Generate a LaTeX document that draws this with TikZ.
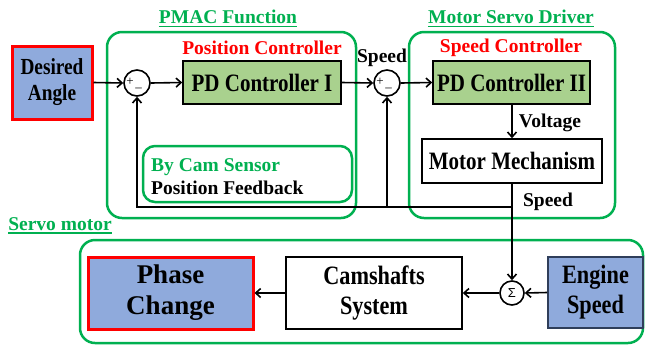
\documentclass[tikz,border=0pt]{standalone}
\usepackage{fontspec}
\setmainfont{Liberation Serif}
\newfontfamily\condf[FakeStretch=0.84]{Liberation Serif}
\newfontfamily\sansf{Liberation Sans}
\usetikzlibrary{arrows.meta}
\definecolor{grn}{RGB}{0,176,80}
\definecolor{fillblue}{RGB}{143,170,220}
\definecolor{fillgreen}{RGB}{169,209,142}
\definecolor{darkedge}{RGB}{47,62,90}
\newcommand\fsz[2]{\fontsize{#1}{#2}\selectfont}
\tikzset{
  grpbox/.style={draw=grn, line width=2.5pt, rounded corners=15pt, inner sep=0pt},
  redbox/.style={draw=red, line width=3pt, fill=fillblue, align=center, inner sep=0pt},
  pdbox/.style={draw=black, line width=1.6pt, fill=fillgreen, inner sep=0pt,
    font=\rmfamily\condf\bfseries\fsz{25}{28}},
  plainbox/.style={draw=black, line width=1.6pt, fill=white, inner sep=0pt, align=center},
  engbox/.style={draw=darkedge, line width=1.8pt, fill=fillblue, inner sep=0pt, align=center,
    font=\condf\bfseries\fsz{26.5}{30}},
  sumc/.style={circle, draw=black, line width=1.6pt, fill=white, inner sep=0pt},
  conn/.style={draw=black, line width=1.6pt},
  lbl/.style={inner sep=0pt, font=\rmfamily\bfseries\fsz{19.5}{23}},
  sgn/.style={inner sep=0pt, font=\rmfamily\fsz{13}{13}},
  uline/.style={draw=grn, line width=1.3pt}
}
\begin{document}
\begin{tikzpicture}[x=1pt, y=-1pt, >={Straight Barb[length=5pt,width=9pt]}]
\useasboundingbox (0,0) rectangle (647,349);

% group frames
\node[grpbox, minimum width=249pt, minimum height=186pt] (pmac) at (231.5,125) {};
\node[grpbox, minimum width=206pt, minimum height=186pt] (msd) at (512,125) {};
\node[grpbox, minimum width=563pt, minimum height=103pt] (servo) at (361.5,291.5) {};
\node[grpbox, rounded corners=12pt, minimum width=209pt, minimum height=56pt] (fbbox) at (247.5,174) {};

% group titles
\node[lbl, text=grn] (tpmac) at (228,17) {PMAC Function};
\draw[uline] ([yshift=-2.5pt]tpmac.base west) -- ([yshift=-2.5pt]tpmac.base east);
\node[lbl, text=grn] (tmsd) at (511,17) {Motor Servo Driver};
\draw[uline] ([yshift=-2.5pt]tmsd.base west) -- ([yshift=-2.5pt]tmsd.base east);
\node[lbl, text=grn] (tservo) at (60,224) {Servo motor};
\draw[uline] ([yshift=-2.5pt]tservo.base west) -- ([yshift=-2.5pt]tservo.base east);

\node[lbl, text=red] (tpos) at (262,48) {Position Controller};
\node[lbl, text=red] (tspd) at (511,48) {Speed Controller};

% feedback caption
\node[lbl, anchor=west, align=left] (fbtext) at (151,177)
  {\textcolor{grn}{By Cam Sensor}\\Position Feedback};

% blocks
\node[redbox, minimum width=80pt, minimum height=73pt, font=\condf\bfseries\fsz{23}{26}]
  (da) at (52,82.5) {Desired\\Angle};
\node[sumc, minimum size=26pt] (s1) at (137,83) {};
\node[pdbox, minimum width=158pt, minimum height=43pt] (pd1) at (262,82.5) {PD Controller I};
\node[sumc, minimum size=26pt] (s2) at (387,83) {};
\node[pdbox, minimum width=157pt, minimum height=43pt] (pd2) at (511.5,82.5) {PD Controller II};
\node[plainbox, minimum width=180pt, minimum height=44pt, font=\condf\bfseries\fsz{25}{28}]
  (mm) at (512,161) {Motor Mechanism};

\node[redbox, minimum width=165pt, minimum height=72pt, font=\rmfamily\bfseries\fsz{27}{31}]
  (ph) at (170.5,293) {Phase\\Change};
\node[plainbox, minimum width=176pt, minimum height=72pt, font=\condf\bfseries\fsz{26.5}{30}]
  (cam) at (374,293) {Camshafts\\System};
\node[sumc, minimum size=24pt, font=\sansf\fsz{13}{13}] (sig) at (512,293) {Σ};
\node[engbox, minimum width=95pt, minimum height=71pt] (eng) at (595.5,292.5) {Engine\\Speed};

% signs in the comparators
\node[sgn] (p1) at (130,81.5) {+};
\node[sgn] (m1) at (138.5,90) {–};
\node[sgn] (p2) at (380,81.5) {+};
\node[sgn] (m2) at (388.5,90) {–};

% signal labels
\node[lbl] (lspd1) at (382,58) {Speed};
\node[lbl] (lvolt) at (550,123) {Voltage};
\node[lbl] (lspd2) at (548,202) {Speed};

% forward path
\draw[conn, ->] (da.east) -- (s1.west);
\draw[conn, ->] (s1.east) -- (pd1.west);
\draw[conn, ->] (pd1.east) -- (s2.west);
\draw[conn, ->] (s2.east) -- (pd2.west);
\draw[conn, ->] (mm.north |- pd2.south) -- (mm.north);
\draw[conn, ->] (mm.south) -- (sig.north);

% feedback paths
\coordinate (fbr) at (512,207);
\draw[conn, ->] (fbr) -| (s1.south);
\draw[conn, ->] (s2 |- fbr) -- (s2.south);

% servo motor chain
\draw[conn, ->] (eng.west) -- (sig.east);
\draw[conn, ->] (sig.west) -- (cam.east);
\draw[conn, ->] (cam.west) -- (ph.east);
\end{tikzpicture}
\end{document}
